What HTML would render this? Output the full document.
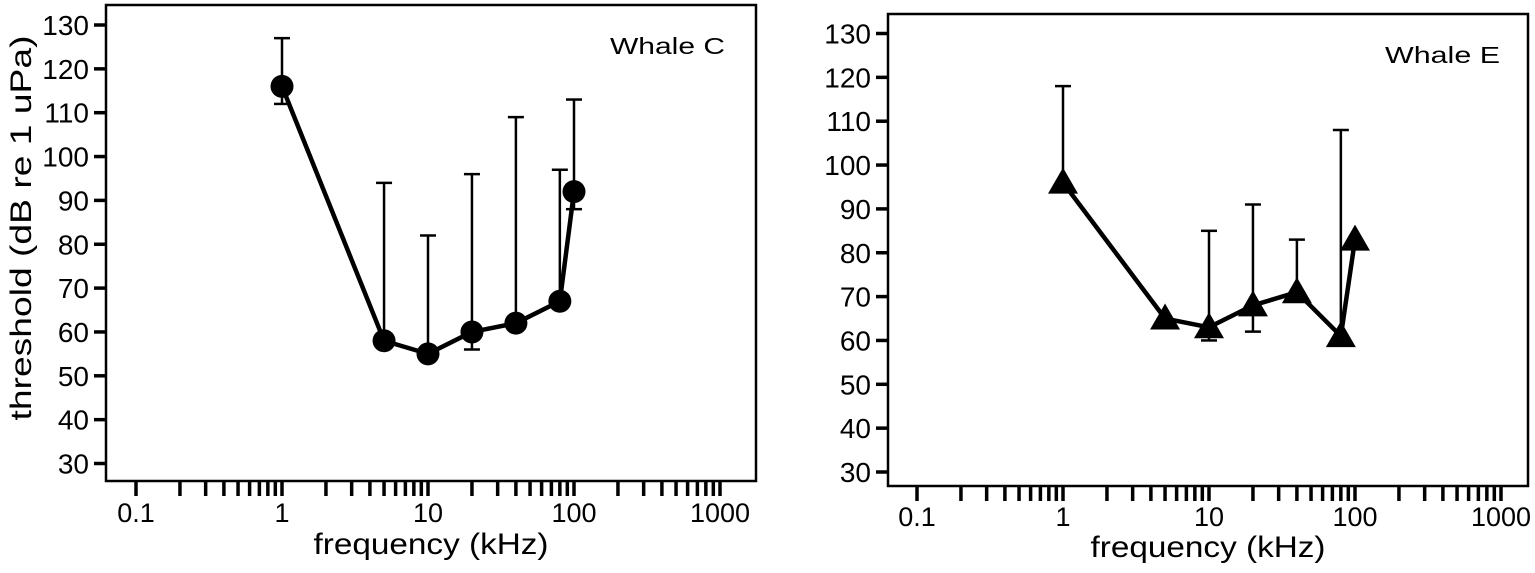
<!DOCTYPE html>
<html><head><meta charset="utf-8"><style>
body{margin:0;background:#fff;}
svg text{font-family:"Liberation Sans",Arial,sans-serif;fill:#000;}
</style></head><body>
<svg id="s" width="1535" height="568"></svg>
<script>
const freqs = [1,5,10,20,40,80,100];
const whaleC = [116,58,55,60,62,67,92];
const whaleCUp = [127,94,82,96,109,97,113];
const whaleCLo = [112,null,null,56,null,null,88];
const whaleE = [96,65,63,68,71,61,83];
const whaleEUp = [118,null,85,91,83,108,null];
const whaleELo = [null,null,60,62,null,null,null];
const yTicks = [30,40,50,60,70,80,90,100,110,120,130];
const xTickLabels = ["0.1","1","10","100","1000"];

const NS="http://www.w3.org/2000/svg";
const svg=document.getElementById('s');
function mk(tag,attrs,parent){const e=document.createElementNS(NS,tag);for(const k in attrs)e.setAttribute(k,attrs[k]);(parent||svg).appendChild(e);return e;}

function panel(cfg){
  const g=mk('g',{});
  
  
  const L=cfg.left,T=cfg.top,R=cfg.right,B=cfg.bottom;
  const x0=cfg.x01; const dec=146;
  const X=v=>x0+Math.log10(v/0.1)*dec;
  const Y=v=>cfg.y130+(130-v)*4.385;
  const fr=mk('rect',{x:L,y:T,width:R-L,height:B-T,fill:'none',stroke:'#000','stroke-width':2.5},g);
  
  
  yTicks.forEach(v=>{
    const t=mk('line',{x1:L-12,x2:L,y1:Y(v),y2:Y(v),stroke:'#000','stroke-width':3.5},g);
    
    
    const tx=mk('text',{x:L-17,y:Y(v)+10,'text-anchor':'end','font-size':28},g);
    tx.textContent=v;
    
    
  });
  for(let d=0;d<4;d++){
    for(let m=1;m<=9;m++){
      const v=0.1*Math.pow(10,d)*m;
      const t=mk('line',{x1:X(v),x2:X(v),y1:B,y2:B+15,stroke:'#000','stroke-width':3.5},g);
      
      
    }
  }
  const tl=mk('line',{x1:X(1000),x2:X(1000),y1:B,y2:B+15,stroke:'#000','stroke-width':3.5},g);
  
  
  xTickLabels.forEach((s,i)=>{
    const tx=mk('text',{x:X(0.1*Math.pow(10,i)),y:cfg.tickLabelY,'text-anchor':'middle','font-size':27},g);
    tx.textContent=s;
    
    
  });
  const xt=mk('text',{x:(L+R)/2,y:cfg.titleY,'text-anchor':'middle','font-size':30,'textLength':235,'lengthAdjust':'spacingAndGlyphs'},g);
  xt.textContent='frequency (kHz)';
  
  
  const lab=mk('text',{x:cfg.labelX,y:T+49,'font-size':23,'textLength':115,'lengthAdjust':'spacingAndGlyphs'},g);
  lab.textContent=cfg.label;
  
  
  freqs.forEach((f,i)=>{
    const up=cfg.up[i],lo=cfg.lo[i];
    const cx=X(f);
    if(up!=null){
      const e=mk('line',{x1:cx,x2:cx,y1:Y(cfg.vals[i]),y2:Y(up),stroke:'#000','stroke-width':2.5},g);
      
      
      const c=mk('line',{x1:cx-8,x2:cx+8,y1:Y(up),y2:Y(up),stroke:'#000','stroke-width':2.5},g);
      
      
    }
    if(lo!=null){
      const e=mk('line',{x1:cx,x2:cx,y1:Y(cfg.vals[i]),y2:Y(lo),stroke:'#000','stroke-width':2.5},g);
      
      
      const c=mk('line',{x1:cx-8,x2:cx+8,y1:Y(lo),y2:Y(lo),stroke:'#000','stroke-width':2.5},g);
      
      
    }
  });
  const pts=freqs.map((f,i)=>X(f)+','+Y(cfg.vals[i])).join(' ');
  const pl=mk('polyline',{points:pts,fill:'none',stroke:'#000','stroke-width':4.5,'stroke-linejoin':'round'},g);
  
  
  freqs.forEach((f,i)=>{
    const cx=X(f),cy=Y(cfg.vals[i]);
    let m;
    if(cfg.marker==='circle'){
      m=mk('circle',{cx:cx,cy:cy,r:11.5,fill:'#000'},g);
    }else{
      m=mk('polygon',{points:`${cx},${cy-15} ${cx-15},${cy+11} ${cx+15},${cy+11}`,fill:'#000'},g);
    }
    
    
  });
}
panel({name:'whale-c-panel',left:106,top:5,right:756,bottom:481,x01:136,y130:25,vals:whaleC,up:whaleCUp,lo:whaleCLo,marker:'circle',label:'Whale C',labelX:610,tickLabelY:522,titleY:554});
panel({name:'whale-e-panel',left:888,top:14,right:1528,bottom:486,x01:917,y130:33.5,vals:whaleE,up:whaleEUp,lo:whaleELo,marker:'tri',label:'Whale E',labelX:1385,tickLabelY:526,titleY:557});
const yt=mk('text',{x:0,y:0,'text-anchor':'middle','font-size':30,'textLength':385,'lengthAdjust':'spacingAndGlyphs',transform:'translate(31,228) rotate(-90)'});
yt.textContent='threshold (dB re 1 uPa)';


</script>
</body></html>
